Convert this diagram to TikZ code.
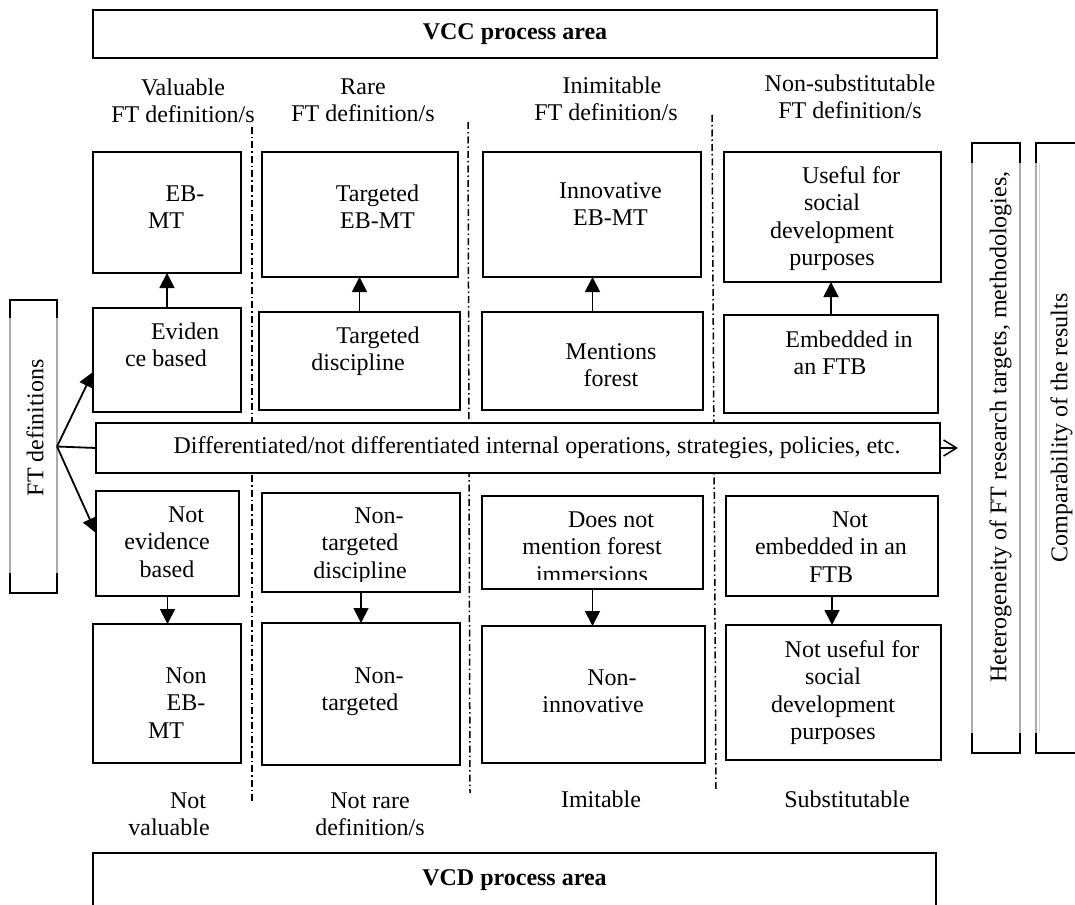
\documentclass[tikz,border=0pt]{standalone}
\usepackage{fontspec}
\setmainfont{Liberation Serif}
\usetikzlibrary{arrows.meta,calc}
\newcommand\dfont{\fontsize{24}{27.3}\selectfont}
\newcommand\mkbox[6]{%
  \pgfmathsetmacro\bxw{#4-#2}\pgfmathsetmacro\bxh{#5-#3}%
  \pgfmathsetmacro\bxx{(#2+#4)/2}\pgfmathsetmacro\bxy{(#3+#5)/2}%
  \node[box,minimum width=\bxw pt,minimum height=\bxh pt] (#1) at (\bxx,\bxy) {#6};}
\tikzset{
 box/.style={draw,line width=1.8pt,fill=white,inner sep=0pt,outer sep=0pt,align=center,font=\dfont},
 txt/.style={inner sep=0pt,outer sep=0pt,align=center,font=\dfont,execute at begin node=\strut,execute at end node=\strut},
 arr/.style={line width=1.8pt,-{Triangle[length=15pt,width=15pt]}},
 divider/.style={line width=1.5pt,dash pattern=on 7pt off 3pt on 1.5pt off 3pt},
 edgegray/.style={line width=2.2pt,gray!65},
}
\begin{document}
\begin{tikzpicture}[x=1pt,y=-1pt]
\useasboundingbox (0,0) rectangle (1075,904);
% column dividers
\draw[divider] (252,127) -- (252,802);
\draw[divider] (468,122) -- (470,793);
\draw[divider] (712,115) -- (716,790);
% header
\mkbox{vcc}{93}{10}{937}{58}{\bfseries VCC process area}
\node[txt] (h1) at (183,104.5) {Valuable\\FT definition/s};
\node[txt] (h2) at (363,104.5) {Rare\\FT definition/s};
\node[txt] (h3) at (606,103) {\hspace*{12pt}Inimitable\\FT definition/s};
\node[txt] (h4) at (850,100.5) {Non-substitutable\\FT definition/s};
% row 1
\mkbox{b11}{93}{152}{241}{273}{}
\mkbox{b12}{262}{152}{458}{277}{}
\mkbox{b13}{483}{152}{701}{277}{}
\mkbox{b14}{724}{152}{941}{282}{}
\node[txt] (t11) at (166,211) {\hspace*{38pt}EB-\\MT};
\node[txt] (t12) at (377.5,211) {Targeted\\EB-MT};
\node[txt] (t13) at (610.5,208) {Innovative\\EB-MT};
\node[txt] (t14) at (832,220) {\hspace*{38pt}Useful for\\social\\development\\purposes};
% row 2
\mkbox{b21}{93}{308}{241}{412}{}
\mkbox{b22}{259}{312}{460}{410}{}
\mkbox{b23}{482}{312}{703}{410}{}
\mkbox{b24}{724}{315}{938}{413}{}
\node[txt] (t21) at (166,349) {\hspace*{38pt}Eviden\\ce based};
\node[txt] (t22) at (358,353) {\hspace*{40pt}Targeted\\discipline};
\begin{scope}
\clip (482,312) rectangle (703,397);
\node[txt] (t23) at (590,383) {\hspace*{42pt}Mentions\\\hspace*{42pt}forest\\immersions};
\end{scope}
\node[txt] (t24) at (830,356.5) {\hspace*{38pt}Embedded in\\an FTB};
% row 3
\mkbox{b31}{96}{491}{239}{596}{}
\mkbox{b32}{262}{493}{460}{592}{}
\mkbox{b33}{482}{496}{703}{589}{}
\mkbox{b34}{726}{496}{938}{596}{}
\node[txt] (t31) at (167,546) {\hspace*{38pt}Not\\evidence\\based};
\begin{scope}
\clip (262,493) rectangle (460,581);
\node[txt] (t32) at (360,547) {\hspace*{38pt}Non-\\targeted\\discipline};
\end{scope}
\begin{scope}
\clip (482,496) rectangle (703,579);
\node[txt] (t33) at (592,551) {\hspace*{38pt}Does not\\mention forest\\immersions};
\end{scope}
\node[txt] (t34) at (831,551) {\hspace*{38pt}Not\\embedded in an\\FTB};
% row 4
\mkbox{b41}{93}{624}{241}{763}{}
\mkbox{b42}{262}{623}{460}{765}{}
\mkbox{b43}{482}{626}{705}{763}{}
\mkbox{b44}{726}{625}{941}{760}{}
\node[txt] (t41) at (166,707) {\hspace*{40pt}Non\\\hspace*{40pt}EB-\\MT};
\node[txt] (t42) at (360,693) {\hspace*{38pt}Non-\\targeted};
\node[txt] (t43) at (593,695) {\hspace*{38pt}Non-\\innovative};
\node[txt] (t44) at (833,694) {\hspace*{38pt}Not useful for\\social\\development\\purposes};
% middle bar
\mkbox{bar}{96}{423}{940}{473}{\hspace*{38pt}Differentiated/not differentiated internal operations, strategies, policies, etc.}
\coordinate (barend) at (958,448);
\draw[line width=1.5pt,-{Straight Barb[length=13pt,width=16pt]}] (bar.east) -- (barend);
% FT definitions
\mkbox{fd}{10}{300}{57}{593}{}
\draw[edgegray] (10,318) -- (10,573);
\draw[edgegray] (57,318) -- (57,573);
\node[txt,rotate=90] (fdt) at (38,428) {FT definitions};
\draw[arr] (fd.east) -- ($(b21.north west)!0.615!(b21.south west)$);
\draw[line width=1.8pt] (fd.east) -- (bar.west);
\draw[arr] (fd.east) -- ($(b31.north west)!0.4!(b31.south west)$);
% vertical arrows
\draw[arr] (b21.north) -- (b21.north |- b11.south);
\draw[arr] (b22.north) -- (b22.north |- b12.south);
\draw[arr] (b23.north) -- (b23.north |- b13.south);
\draw[arr] (b24.north) -- (b24.north |- b14.south);
\draw[arr] (b31.south) -- (b31.south |- b41.north);
\draw[arr] (b32.south) -- (b32.south |- b42.north);
\draw[arr] (b33.south) -- (b33.south |- b43.north);
\draw[arr] (b34.south) -- (b34.south |- b44.north);
% right boxes
\mkbox{ra}{972}{143}{1020}{753}{}
\mkbox{rb}{1036}{143}{1092}{753}{}
\draw[edgegray] (972,163) -- (972,733);
\draw[edgegray] (1020,163) -- (1020,733);
\draw[edgegray] (1036,163) -- (1036,733);
\draw[line width=1.5pt,gray!35] (1039.5,163) -- (1039.5,733);
\node[txt,rotate=90] (rat) at (1001,427) {Heterogeneity of FT research targets, methodologies,};
\node[txt,rotate=90] (rbt) at (1062,428) {Comparability of the results};
% bottom
\node[txt] (l1) at (169,818) {\hspace*{38pt}Not\\valuable};
\node[txt] (l2) at (370,818) {Not rare\\definition/s};
\node[txt] (l3) at (601,802) {Imitable};
\node[txt] (l4) at (847,802) {Substitutable};
\mkbox{vcd}{93}{853}{936}{907}{\bfseries VCD process area}
\end{tikzpicture}
\end{document}
